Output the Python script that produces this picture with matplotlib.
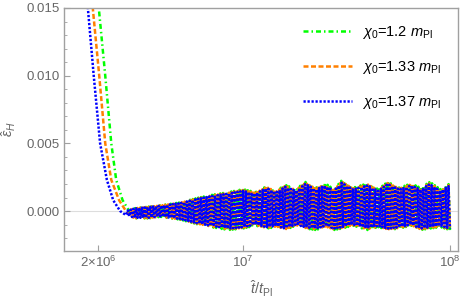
import numpy as np
import matplotlib
matplotlib.use("Agg")
import matplotlib.pyplot as plt

# steep descent (t, eps_H)
t_fall_blue = [1.62e6, 1.78e6, 1.90e6, 2.04e6, 2.20e6, 2.36e6, 2.55e6, 2.72e6]
e_fall_blue = [0.025, 0.015, 0.010, 0.005, 0.0023, 0.0008, 0.0000, -0.0003]
t_fall_orange = [1.72e6, 1.88e6, 2.02e6, 2.16e6, 2.31e6, 2.52e6, 2.72e6, 2.85e6]
e_fall_orange = [0.025, 0.015, 0.010, 0.005, 0.0023, 0.0008, 0.0000, -0.0003]
t_fall_green = [1.84e6, 2.01e6, 2.16e6, 2.31e6, 2.44e6, 2.62e6, 2.82e6, 2.95e6]
e_fall_green = [0.025, 0.015, 0.010, 0.005, 0.0023, 0.0008, 0.0000, -0.0003]

# envelope of the fast oscillation (upper / lower edge of the band)
t_env = [2.7e6, 3.0e6, 3.5e6, 4.0e6, 5.0e6, 6.0e6, 7.0e6, 8.5e6, 1.0e7,
         1.15e7, 1.3e7, 1.45e7, 1.6e7, 1.8e7, 2.0e7, 2.25e7, 2.5e7, 2.75e7,
         3.0e7, 3.4e7, 4.0e7, 4.5e7, 5.0e7, 5.7e7, 6.5e7, 7.2e7, 8.0e7,
         9.0e7, 1.0e8]
env_hi = [0.0000, 0.0002, 0.0003, 0.0004, 0.0006, 0.0009, 0.0011, 0.0013,
          0.0015, 0.0013, 0.0017, 0.0014, 0.0018, 0.0015, 0.0020, 0.0016,
          0.0019, 0.0015, 0.0021, 0.0016, 0.0019, 0.0015, 0.0020, 0.0016,
          0.0019, 0.0016, 0.0020, 0.0015, 0.0019]
env_lo = [-0.0003, -0.0005, -0.0005, -0.0004, -0.0006, -0.0009, -0.0011,
          -0.0013, -0.0012, -0.0010, -0.0012, -0.0011, -0.0013, -0.0010,
          -0.0012, -0.0013, -0.0011, -0.0013, -0.0012, -0.0010, -0.0013,
          -0.0011, -0.0013, -0.0012, -0.0010, -0.0013, -0.0012, -0.0011,
          -0.0013]

labels = [r"$\chi_0$=1.2 $m_{\rm Pl}$",
          r"$\chi_0$=1.33 $m_{\rm Pl}$",
          r"$\chi_0$=1.37 $m_{\rm Pl}$"]
colors = ["#00ff00", "#ff8000", "#0000ff"]
amp_scale = [1.08, 1.04, 1.0]

xticks = [2e6, 1e7, 1e8]
xticklabels = [r"$2{\times}10^{6}$", r"$10^{7}$", r"$10^{8}$"]
yticks = [0.0, 0.005, 0.010, 0.015]

plt.rcParams["font.family"] = ["Liberation Sans", "DejaVu Sans"]
plt.rcParams["mathtext.fontset"] = "custom"
plt.rcParams["mathtext.rm"] = "Liberation Sans"
plt.rcParams["mathtext.it"] = "Liberation Sans:italic"
plt.rcParams["mathtext.bf"] = "Liberation Sans:bold"


def series(t_fall, e_fall, scale, n=230):
    # descent, then the curve swinging between the band edges
    t_osc = np.geomspace(t_fall[-1] * 1.02, 1e8, n)
    lt = np.log10(t_env)
    hi = np.interp(np.log10(t_osc), lt, env_hi) * scale
    lo = np.interp(np.log10(t_osc), lt, env_lo) * scale
    e_osc = np.where(np.arange(n) % 2 == 0, hi, lo)
    return np.concatenate([t_fall, t_osc]), np.concatenate([e_fall, e_osc])


def main():
    fig = plt.figure(figsize=(4.63, 3.06), dpi=100)
    ax = fig.add_axes([64 / 463, 55 / 306, 394 / 463, 243 / 306])

    ax.axhline(0, color="#dddddd", lw=0.8, zorder=0)

    styles = [(0, (2.0, 1.2, 0.6, 1.2)), (0, (2.0, 1.0)), (0, (0.9, 0.7))]
    falls = [(t_fall_green, e_fall_green), (t_fall_orange, e_fall_orange),
             (t_fall_blue, e_fall_blue)]
    for (tf, ef), c, ls, lab, s in zip(falls, colors, styles, labels, amp_scale):
        t, e = series(tf, ef, s)
        ax.plot(t, e, color=c, lw=1.8, ls=ls, label=lab)

    ax.set_xscale("log")
    ax.set_xlim(1.365e6, 1.094e8)
    ax.set_ylim(-0.00295, 0.015)
    ax.set_xticks(xticks)
    ax.set_xticklabels(xticklabels)
    ax.xaxis.set_minor_locator(matplotlib.ticker.NullLocator())
    ax.set_yticks(yticks)
    ax.set_yticklabels(["%.3f" % v for v in yticks])
    ax.yaxis.set_minor_locator(matplotlib.ticker.MultipleLocator(0.001))

    for sp in ax.spines.values():
        sp.set_color("#a0a0a0")
        sp.set_linewidth(1.0)
    ax.tick_params(which="both", direction="in", color="#a0a0a0",
                   labelcolor="#666666", labelsize=9.5, pad=3)
    ax.tick_params(which="major", length=4)
    ax.tick_params(which="minor", length=2.5)

    ax.set_ylabel(r"$\hat{\varepsilon}_H$", color="#666666", fontsize=10.5,
                  labelpad=6)
    ax.set_xlabel(r"$\hat{t}/t_{\rm Pl}$", color="#666666", fontsize=10.5,
                  labelpad=6)

    ax.legend(loc="upper left", bbox_to_anchor=(303 / 463, 1 - 24 / 306),
              bbox_transform=fig.transFigure, frameon=False, fontsize=10.5,
              borderpad=0, borderaxespad=0, handlelength=3.35,
              handletextpad=0.68, labelspacing=1.25)

    fig.savefig("out.png", dpi=100)


if __name__ == "__main__":
    main()
